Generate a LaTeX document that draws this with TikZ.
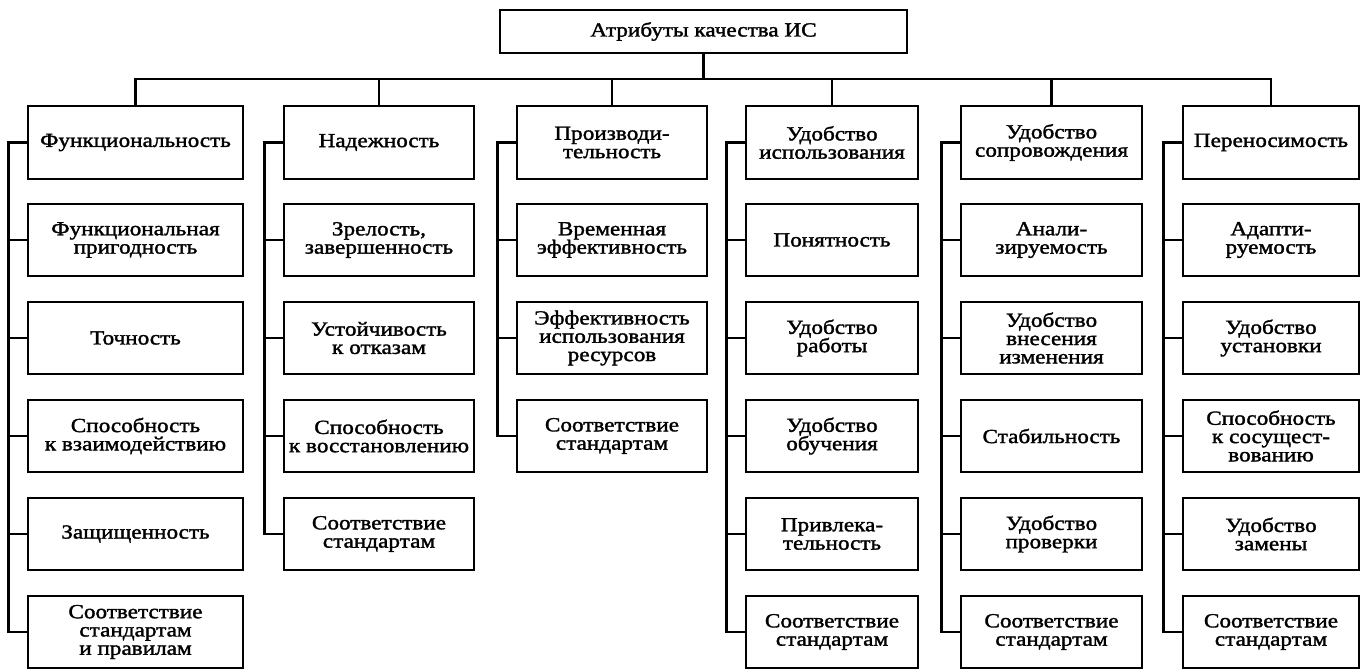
\documentclass[tikz,border=0pt]{standalone}
\usepackage{fontspec}
\setmainfont{Liberation Serif}[FakeStretch=1.16, FakeBold=1.6]
\begin{document}
\begin{tikzpicture}[x=1pt,y=-1pt,
  line width=2.8pt,
  box/.style={draw, rectangle, inner sep=0pt, align=center,
    minimum height=72pt,
    font=\fontsize{20pt}{18.3pt}\selectfont},
  head/.style={box, minimum height=73pt},
  wa/.style={minimum width=215pt},
  wb/.style={minimum width=190pt},
  wc/.style={minimum width=190pt},
  wd/.style={minimum width=172pt},
  we/.style={minimum width=181pt},
  wf/.style={minimum width=176pt}
]
\useasboundingbox (0,0) rectangle (1361,669);

% root
\node[box, minimum width=407pt, minimum height=43pt] (root) at (703.5,31.5) {Атрибуты качества ИС};
\coordinate (bus) at (703.5,79);

% column heads
\node[head,wa] (a0) at (135.5,142.5) {Функциональность};
\node[head,wb] (b0) at (379,142.5) {Надежность};
\node[head,wc] (c0) at (612,142.5) {Производи-\\тельность};
\node[head,wd] (d0) at (832,142.5) {Удобство\\использования};
\node[head,we] (e0) at (1051.5,142.5) {Удобство\\сопровождения};
\node[head,wf] (f0) at (1271,142.5) {Переносимость};

% column 1
\node[box,wa] (a1) at (135.5,240) {Функциональная\\пригодность};
\node[box,wa] (a2) at (135.5,338) {Точность};
\node[box,wa] (a3) at (135.5,436) {Способность\\к взаимодействию};
\node[box,wa] (a4) at (135.5,534) {Защищенность};
\node[box,wa] (a5) at (135.5,632) {Соответствие\\стандартам\\и правилам};

% column 2
\node[box,wb] (b1) at (379,240) {Зрелость,\\завершенность};
\node[box,wb] (b2) at (379,338) {Устойчивость\\к отказам};
\node[box,wb] (b3) at (379,436) {Способность\\к восстановлению};
\node[box,wb] (b4) at (379,534) {Соответствие\\стандартам};

% column 3
\node[box,wc] (c1) at (612,240) {Временная\\эффективность};
\node[box,wc] (c2) at (612,338) {Эффективность\\использования\\ресурсов};
\node[box,wc] (c3) at (612,436) {Соответствие\\стандартам};

% column 4
\node[box,wd] (d1) at (832,240) {Понятность};
\node[box,wd] (d2) at (832,338) {Удобство\\работы};
\node[box,wd] (d3) at (832,436) {Удобство\\обучения};
\node[box,wd] (d4) at (832,534) {Привлека-\\тельность};
\node[box,wd] (d5) at (832,632) {Соответствие\\стандартам};

% column 5
\node[box,we] (e1) at (1051.5,240) {Анали-\\зируемость};
\node[box,we] (e2) at (1051.5,338) {Удобство\\внесения\\изменения};
\node[box,we] (e3) at (1051.5,436) {Стабильность};
\node[box,we] (e4) at (1051.5,534) {Удобство\\проверки};
\node[box,we] (e5) at (1051.5,632) {Соответствие\\стандартам};

% column 6
\node[box,wf] (f1) at (1271,240) {Адапти-\\руемость};
\node[box,wf] (f2) at (1271,338) {Удобство\\установки};
\node[box,wf] (f3) at (1271,436) {Способность\\к сосущест-\\вованию};
\node[box,wf] (f4) at (1271,534) {Удобство\\замены};
\node[box,wf] (f5) at (1271,632) {Соответствие\\стандартам};

% top bus
\draw (root.south) -- (bus);
\draw (a0.north) |- (bus) -| (f0.north);
\foreach \h in {b0,c0,d0,e0}
  \draw (\h.north) -- (\h.north |- bus);

% column rails
\draw (a0.west) -- ++(-18,0) |- (a5.west);
\foreach \n in {a1,a2,a3,a4} \draw (\n.west) -- ++(-18,0);
\draw (b0.west) -- ++(-18,0) |- (b4.west);
\foreach \n in {b1,b2,b3} \draw (\n.west) -- ++(-18,0);
\draw (c0.west) -- ++(-18,0) |- (c3.west);
\foreach \n in {c1,c2} \draw (\n.west) -- ++(-18,0);
\draw (d0.west) -- ++(-18,0) |- (d5.west);
\foreach \n in {d1,d2,d3,d4} \draw (\n.west) -- ++(-18,0);
\draw (e0.west) -- ++(-18,0) |- (e5.west);
\foreach \n in {e1,e2,e3,e4} \draw (\n.west) -- ++(-18,0);
\draw (f0.west) -- ++(-18,0) |- (f5.west);
\foreach \n in {f1,f2,f3,f4} \draw (\n.west) -- ++(-18,0);
\end{tikzpicture}
\end{document}
